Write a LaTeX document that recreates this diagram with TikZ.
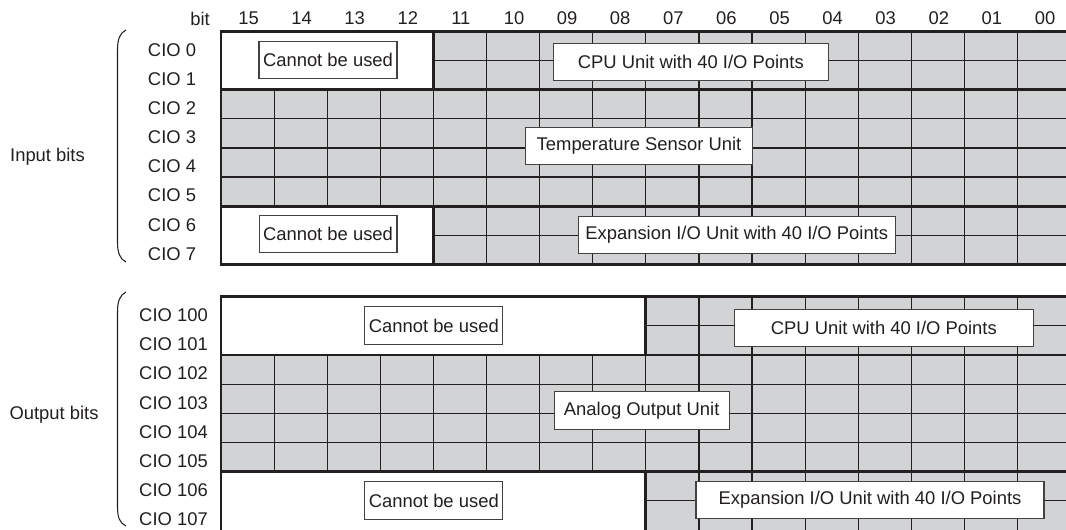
\documentclass[tikz,border=0pt]{standalone}
\usepackage{fontspec}
\setmainfont{Liberation Sans}
\definecolor{cellgray}{RGB}{209,211,212}
\definecolor{ink}{RGB}{35,31,32}
\tikzset{cellfill/.style={fill=cellgray},
  gridline/.style={draw=ink,line width=0.9pt},
  thickrule/.style={draw=ink,line width=2pt,line cap=rect},
  unitbox/.style={draw=ink!85,fill=white,line width=0.8pt,inner xsep=3pt,minimum height=28pt},
  paren/.style={draw=ink,line width=0.8pt}}

\begin{document}
\begin{tikzpicture}[x=0.75pt,y=-0.75pt,every node/.style={font=\fontsize{13.8}{16}\selectfont,text=ink}]
  \useasboundingbox (0,0) rectangle (1066,529);
  % header
  \node (bit) at (200,18.5) {bit};
  \foreach \n [count=\i from 0] in {15,14,13,12,11,10,09,08,07,06,05,04,03,02,01,00}
    \node (b\n) at ({221+53.1*\i+27.5},18.5) {\n};
  % input bits
  \fill[cellfill] (221,31.3) rectangle (1070,264.5);
  \foreach \c in {1,...,15}
    \draw[gridline] ({221+53.1*\c},31.3) -- ({221+53.1*\c},264.5);
  \foreach \r in {1,...,7}
    \draw[gridline] (221,{31.3+29.15*\r}) -- (1070,{31.3+29.15*\r});
  \fill[white] (221,31.3) rectangle (433.4,89.6);
  \fill[white] (221,206.2) rectangle (433.4,264.5);
  \draw[thickrule] (1070,31.3) -- (221,31.3) -- (221,264.5) -- (1070,264.5);
  \draw[thickrule] (221,89.6) -- (1070,89.6) (221,206.2) -- (1070,206.2);
  \draw[thickrule] (433.4,31.3) -- (433.4,89.6) (433.4,206.2) -- (433.4,264.5);
  \foreach \r in {0,...,7}
    \node (cio\r) at (172,{31.3+29.15*(\r+0.5)+4}) {CIO \r};
  \node[unitbox,minimum width=103.5pt] (inoff1) at (328,60) {Cannot be used};
  \node[unitbox,minimum width=206.3pt] (incpu) at (690.8,62) {CPU Unit with 40 I/O Points};
  \node[unitbox,minimum width=170.6pt] (temp) at (639,145.7) {Temperature Sensor Unit};
  \node[unitbox,minimum width=103pt] (inoff2) at (328,233.7) {Cannot be used};
  \node[unitbox,minimum width=237.5pt] (inexp) at (736.7,234.7) {Expansion I/O Unit with 40 I/O Points};
  \draw[paren] (126,30) .. controls (119.5,33) and (117.5,40) .. (117.5,50) -- (117.5,242) .. controls (117.5,252) and (119.5,259) .. (126,262);
  \node (inbits) at (47.5,157) {Input bits};
  % output bits
  \fill[cellfill] (221,296.7) rectangle (1070,530);
  \foreach \c in {1,...,15}
    \draw[gridline] ({221+53.1*\c},296.7) -- ({221+53.1*\c},530);
  \foreach \r in {1,...,7}
    \draw[gridline] (221,{296.7+29.15*\r}) -- (1070,{296.7+29.15*\r});
  \fill[white] (221,296.7) rectangle (645.8,355);
  \fill[white] (221,471.6) rectangle (645.8,530);
  \draw[thickrule] (1070,296.7) -- (221,296.7) -- (221,530);
  \draw[thickrule] (221,355) -- (1070,355) (221,471.6) -- (1070,471.6);
  \draw[thickrule] (645.8,296.7) -- (645.8,355) (645.8,471.6) -- (645.8,530);
  \foreach \r [count=\i from 0] in {100,...,107}
    \node (cio\r) at (173.5,{296.7+29.15*(\i+0.5)+4}) {CIO \r};
  \node[unitbox,minimum width=103.3pt] (outoff1) at (433.8,325.5) {Cannot be used};
  \node[unitbox,minimum width=224.3pt] (outcpu) at (883.8,327.8) {CPU Unit with 40 I/O Points};
  \node[unitbox,minimum width=131.5pt] (analog) at (641.7,410.5) {Analog Output Unit};
  \node[unitbox,minimum width=103.3pt] (outoff2) at (433.8,500.5) {Cannot be used};
  \node[unitbox,minimum width=261pt] (outexp) at (870,500) {Expansion I/O Unit with 40 I/O Points};
  \draw[paren] (126,292) .. controls (119.5,295) and (117.5,302) .. (117.5,312) -- (117.5,507) .. controls (117.5,517) and (119.5,523) .. (126,526);
  \node (outbits) at (54,415) {Output bits};
\end{tikzpicture}
\end{document}
